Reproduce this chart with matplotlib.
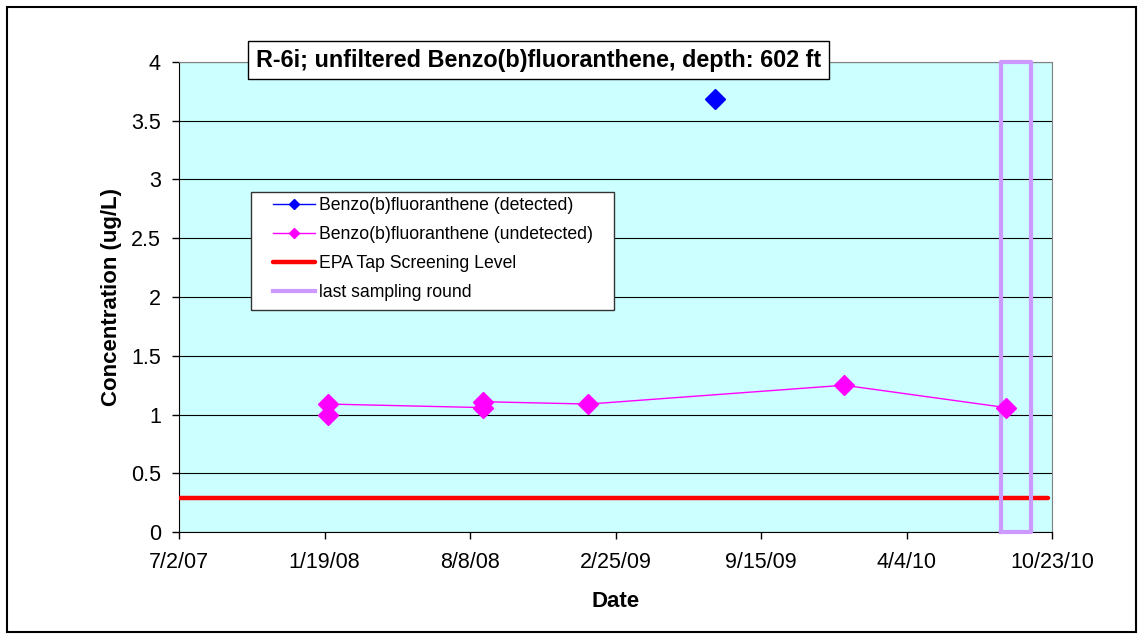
import matplotlib.pyplot as plt
import matplotlib.dates as mdates
from matplotlib.patches import Rectangle
import numpy as np

plt.rcParams['font.family'] = ['Liberation Sans', 'DejaVu Sans']

# R-6i sampling results, ug/L
undet_dates = ['2008-01-25', '2008-01-25', '2008-08-26', '2008-08-26',
               '2009-01-19', '2010-01-08', '2010-08-20']
undet_vals = [1.0, 1.09, 1.06, 1.11, 1.09, 1.25, 1.06]
det_dates = ['2009-07-13']
det_vals = [3.68]
epa_dates = ['2007-07-02', '2010-10-17']
epa_level = 0.29
last_round = ['2010-08-14', '2010-09-24']

y_ticks = [0, 0.5, 1, 1.5, 2, 2.5, 3, 3.5, 4]
y_labels = ['0', '0.5', '1', '1.5', '2', '2.5', '3', '3.5', '4']
# date axis: 7/2/07 to 10/23/10, major unit 201.5 days
x_min = '2007-07-02'
x_step = 201.5
n_ticks = 7

W, H = 1143, 639
fig = plt.figure(figsize=(W / 100, H / 100), dpi=100)
ax = fig.add_axes([179 / W, 1 - 532.3 / H, (1052 - 179) / W, (532.3 - 61.7) / H])
ax.set_facecolor('#CCFFFF')

to_num = lambda ds: mdates.datestr2num(ds)

l1, = ax.plot(to_num(det_dates), det_vals, color='#0000FF', lw=1, marker='D',
              ms=10, mec='#0000FF', label='Benzo(b)fluoranthene (detected)', zorder=4)
l2, = ax.plot(to_num(undet_dates), undet_vals, color='#FF00FF', lw=1, marker='D',
              ms=10, mec='#FF00FF', label='Benzo(b)fluoranthene (undetected)', zorder=4)
l3, = ax.plot(to_num(epa_dates), [epa_level, epa_level], color='#FF0000', lw=3.2,
              solid_capstyle='round', label='EPA Tap Screening Level', zorder=3)
r0, r1 = to_num(last_round)
l4, = ax.plot([r0, r0, r1, r1, r0], [0, 4, 4, 0, 0], color='#CC99FF', lw=3,
              solid_joinstyle='round', clip_on=False, label='last sampling round', zorder=3)

tick_pos = mdates.datestr2num(x_min) + x_step * np.arange(n_ticks)
tick_lab = []
for t in tick_pos:
    d = mdates.num2date(np.floor(t))
    tick_lab.append('%d/%d/%s' % (d.month, d.day, d.strftime('%y')))

ax.set_xlim(tick_pos[0], tick_pos[-1])
ax.set_ylim(0, 4)
ax.set_xticks(tick_pos)
ax.set_xticklabels(tick_lab)
ax.set_yticks(y_ticks)
ax.set_yticklabels(y_labels)
ax.tick_params(axis='both', direction='out', length=5, width=1, labelsize=15.5, color='black')
ax.tick_params(axis='y', pad=8)
ax.tick_params(axis='x', pad=9)
ax.yaxis.grid(True, color='black', lw=0.8)
ax.set_axisbelow(True)
for s in ['top', 'right']:
    ax.spines[s].set_color('#808080')
for s in ['left', 'bottom']:
    ax.spines[s].set_color('black')

ax.set_ylabel('Concentration (ug/L)', fontsize=16, weight='bold')
ax.yaxis.set_label_coords((122 - 179) / (1052 - 179), 0.5)
ax.set_xlabel('Date', fontsize=16, weight='bold')
ax.xaxis.set_label_coords(0.5, -(591 - 532.3) / (532.3 - 61.7))

# legend box drawn separately so the padding can differ left/right vs top/bottom
ax.add_patch(Rectangle((251 / W, 1 - 310 / H), (614 - 251) / W, (310 - 192) / H,
                       transform=fig.transFigure, clip_on=False, fc='white',
                       ec='#333333', lw=1, zorder=4.9))
leg = ax.legend(handles=[l1, l2, l3, l4], loc='upper left',
                bbox_to_anchor=(273 / W, 1 - 197 / H), bbox_transform=fig.transFigure,
                borderaxespad=0, borderpad=0, frameon=False,
                fontsize=12.7, markerscale=0.5, handlelength=2.38, handletextpad=0.23,
                labelspacing=0.68)

fig.text(538.5 / W, 1 - 60 / H, 'R-6i; unfiltered Benzo(b)fluoranthene, depth: 602 ft',
         ha='center', va='center', fontsize=16.8, weight='bold',
         bbox=dict(boxstyle='square,pad=0.32', fc='white', ec='black', lw=1))

# outer chart border
fig.patches.append(Rectangle((7 / W, 7 / H), (1136 - 7) / W, (632 - 7) / H,
                             transform=fig.transFigure, fill=False,
                             edgecolor='black', lw=1.5))

plt.savefig('out.png', dpi=100)
